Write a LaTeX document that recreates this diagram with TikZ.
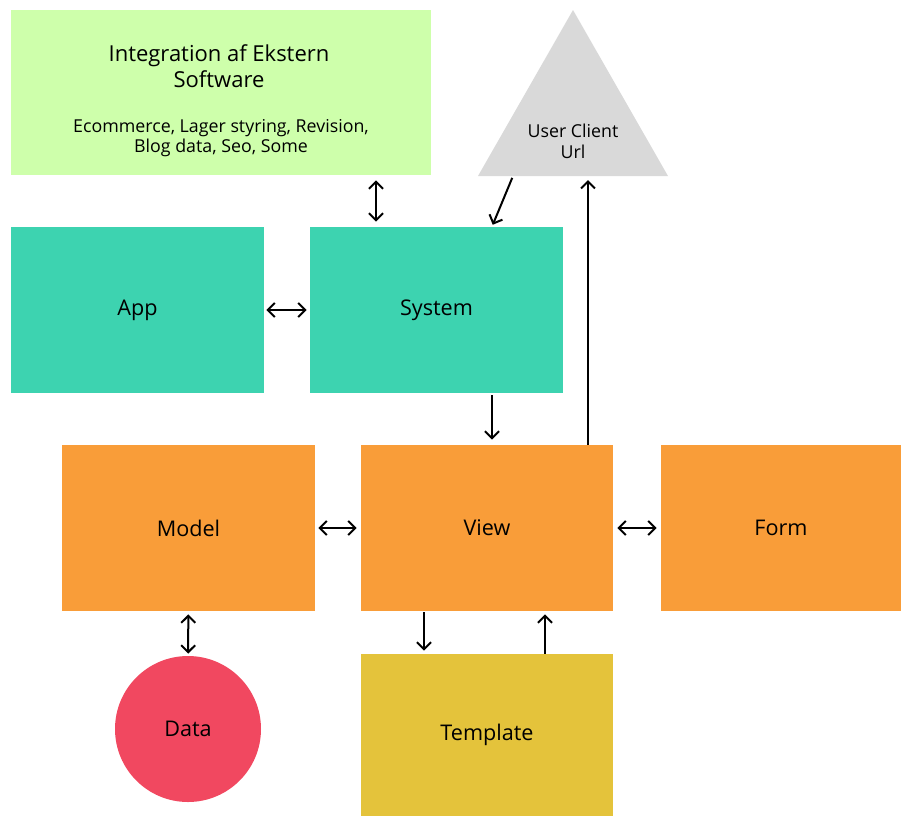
\documentclass[tikz,border=0pt]{standalone}
\usepackage{fontspec}
\setmainfont{Open Sans}
\usetikzlibrary{arrows.meta}
\definecolor{extgreen}{RGB}{206,255,171}
\definecolor{usergray}{RGB}{217,217,217}
\definecolor{coreteal}{RGB}{61,211,176}
\definecolor{mvcorange}{RGB}{249,157,57}
\definecolor{datared}{RGB}{241,72,96}
\definecolor{tplyellow}{RGB}{228,195,59}

\tikzset{
    box/.style={rectangle, minimum width=126.5pt, minimum height=83pt, inner sep=0pt, font=\fontsize{10.8}{13}\selectfont},
    link/.style={line width=1pt, -{Straight Barb[length=3.5pt,width=7pt]}},
    twoway/.style={line width=1pt, {Straight Barb[length=3.5pt,width=7pt]}-{Straight Barb[length=3.5pt,width=7pt]}},
}

\begin{document}
\begin{tikzpicture}[x=0.5pt,y=-0.5pt]
    \useasboundingbox (0,0) rectangle (901,816);
    % ekstern software
    \node[box, fill=extgreen, minimum width=210pt, minimum height=82.5pt] (integ) at (221,92.5) {};
    \node[font=\fontsize{11}{13}\selectfont, align=center] (integtitle) at (219,66) {Integration af Ekstern\\Software};
    \node[font=\fontsize{8.9}{10}\selectfont, align=center] (integsub) at (221,138) {Ecommerce, Lager styring, Revision,\\Blog data, Seo, Some};
    % bruger
    \coordinate (utop) at (573,10);
    \coordinate (ubl) at (478,176);
    \coordinate (ubr) at (668,176);
    \fill[usergray] (utop) -- (ubl) -- (ubr) -- cycle;
    \node[font=\fontsize{8.9}{10.5}\selectfont, align=center] (user) at (573,141) {User Client\\Url};
    % system
    \node[box, fill=coreteal] (app) at (137.5,310) {App};
    \node[box, fill=coreteal] (sys) at (436.5,310) {System};
    % mvc
    \node[box, fill=mvcorange] (model) at (188.5,528) {Model};
    \node[box, fill=mvcorange, minimum width=126pt] (view) at (487,528) {View};
    \node[box, fill=mvcorange, minimum width=120pt] (form) at (781,528) {Form};
    \node[circle, fill=datared, minimum size=73pt, inner sep=0pt, font=\fontsize{10.8}{13}\selectfont] (data) at (188,729) {Data};
    \node[box, fill=tplyellow, minimum width=126pt, minimum height=81pt] (tmpl) at (487,735) {Template};
    % pile
    \draw[twoway, shorten <=2.5pt, shorten >=2.5pt] (integ.south -| 376,0) -- (sys.north -| 376,0);
    \draw[link, shorten <=1pt, shorten >=1pt] (ubl -| 513,0) -- (sys.north -| 492,0);
    \draw[link, shorten >=2pt] (view.north -| 588,0) -- (ubl -| 588,0);
    \draw[twoway, shorten <=1pt, shorten >=1.5pt] (app) -- (sys);
    \draw[link, shorten <=1pt, shorten >=2.5pt] (sys.south -| 492,0) -- (view.north -| 492,0);
    \draw[twoway, shorten <=1.5pt, shorten >=2pt] (model) -- (view);
    \draw[twoway, shorten <=2pt, shorten >=2pt] (view) -- (form);
    \draw[twoway, shorten <=1.5pt, shorten >=1pt] (model) -- (data);
    \draw[link, shorten <=0.5pt, shorten >=1.5pt] (view.south -| 424,0) -- (tmpl.north -| 424,0);
    \draw[link, shorten >=1.5pt] (tmpl.north -| 545,0) -- (view.south -| 545,0);
\end{tikzpicture}
\end{document}
